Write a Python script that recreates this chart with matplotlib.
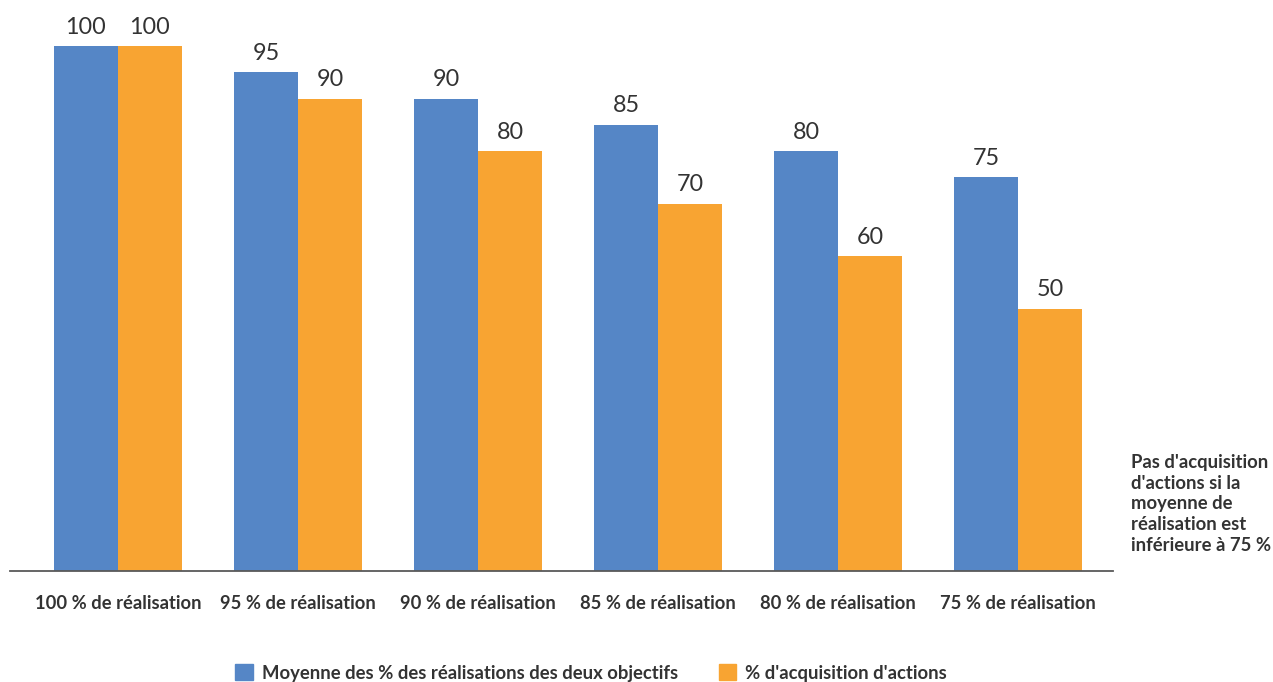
import numpy as np
import matplotlib
matplotlib.use('Agg')
import matplotlib.pyplot as plt
from matplotlib.patches import Patch

plt.rcParams['font.family'] = ['Lato', 'DejaVu Sans']

# données
categories = ['100 % de réalisation', '95 % de réalisation', '90 % de réalisation',
              '85 % de réalisation', '80 % de réalisation', '75 % de réalisation']
moyenne = [100, 95, 90, 85, 80, 75]
acquisition = [100, 90, 80, 70, 60, 50]
serie_noms = ['Moyenne des % des réalisations des deux objectifs', "% d'acquisition d'actions"]
note = "Pas d'acquisition\nd'actions si la\nmoyenne de\nréalisation est\ninférieure à 75 %"

bleu = '#5586C6'
orange = '#F8A432'
texte = '#333333'

W, H = 1273, 682
fig = plt.figure(figsize=(W / 100, H / 100), dpi=100)
# axe : gauche 10 px, droite 1113 px, base 571 px depuis le haut
ax = fig.add_axes([10 / W, (H - 571) / H, (1113 - 10) / W, 571 / H])

x = np.arange(len(categories))
larg = 64 / 180
b1 = ax.bar(x - larg / 2, moyenne, larg, color=bleu)
b2 = ax.bar(x + larg / 2, acquisition, larg, color=orange)

for bars, vals in [(b1, moyenne), (b2, acquisition)]:
    for r, v in zip(bars, vals):
        ax.annotate(str(v), (r.get_x() + r.get_width() / 2, v), xytext=(0, 6),
                    textcoords='offset points', ha='center', va='bottom',
                    fontsize=16.8, color=texte, annotation_clip=False)

ax.set_xlim(-0.6, 5.528)
ax.set_ylim(0, 571 / 5.25)
ax.set_xticks(x)
ax.set_xticklabels(categories, fontsize=13.2, fontweight='bold', color=texte)
ax.tick_params(axis='x', length=0, pad=17)
ax.set_yticks([])
for s in ['top', 'left', 'right']:
    ax.spines[s].set_visible(False)
ax.spines['bottom'].set_color('#595959')
ax.spines['bottom'].set_linewidth(1.3)

fig.text(1131 / W, 1 - 504 / H, note, ha='left', va='center', fontsize=13.3,
         fontweight='bold', color=texte, linespacing=1.28)

handles = [Patch(color=bleu), Patch(color=orange)]
fig.legend(handles, serie_noms, loc='center', bbox_to_anchor=(591 / W, 1 - 673 / H),
           ncol=2, frameon=False, prop={'size': 13.3, 'weight': 'bold'},
           handlelength=0.95, handleheight=0.95, handletextpad=0.5, columnspacing=2.2,
           labelcolor=texte)

fig.savefig('out.png', dpi=100)
